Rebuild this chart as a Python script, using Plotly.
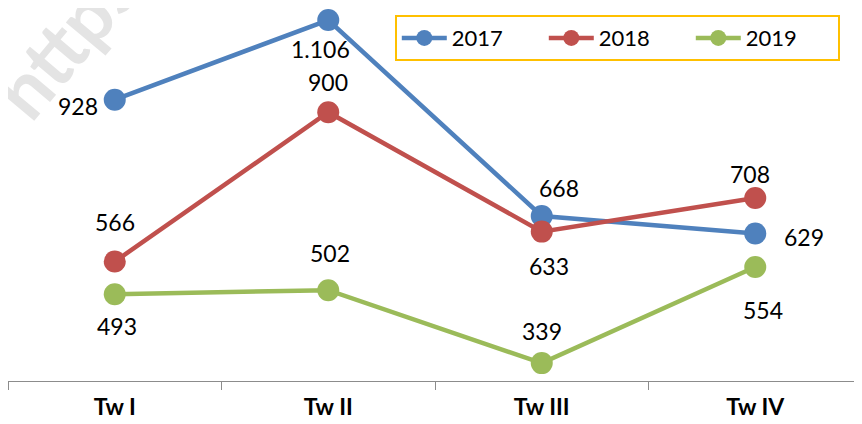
import plotly.graph_objects as go

categories = ["Tw I", "Tw II", "Tw III", "Tw IV"]
series_names = ["2017", "2018", "2019"]
values_2017 = [928, 1106, 668, 629]
values_2018 = [566, 900, 633, 708]
values_2019 = [493, 502, 339, 554]
labels_2017 = ["928", "1.106", "668", "629"]
labels_2018 = ["566", "900", "633", "708"]
labels_2019 = ["493", "502", "339", "554"]

colors = ["#4F81BD", "#C0504D", "#9BBB59"]
# label offsets in pixels (dx right, dy down) relative to each point
offsets = [
    [(-37, 8), (-8, 31), (17, -26), (49, 6)],
    [(0, -38), (0, -28), (7, 36), (-5, -22)],
    [(2, 34), (2, -35), (0, -30), (8, 45)],
]

fig = go.Figure()
all_vals = [values_2017, values_2018, values_2019]
all_labs = [labels_2017, labels_2018, labels_2019]
for name, vals, labs, col, offs in zip(series_names, all_vals, all_labs, colors, offsets):
    fig.add_trace(go.Scatter(
        x=categories, y=vals, name=name, mode="lines+markers",
        line=dict(color=col, width=4.5),
        marker=dict(color=col, size=22),
    ))
    for cat, v, lab, (dx, dy) in zip(categories, vals, labs, offs):
        fig.add_annotation(x=cat, y=v, text=lab, showarrow=False,
                           xshift=dx, yshift=-dy + 2, xanchor="center", yanchor="middle",
                           font=dict(size=23, color="#000000", family="Lato"))

# watermark
fig.add_annotation(text="<b>https://</b>", xref="paper", yref="paper", x=0.093, y=0.99,
                   xanchor="center", yanchor="middle", showarrow=False, textangle=-50,
                   font=dict(size=76, color="#E4E4E4", family="Lato"))

fig.update_layout(
    width=854, height=416,
    margin=dict(l=0, r=0, t=0, b=43, autoexpand=False),
    paper_bgcolor="white", plot_bgcolor="white",
    showlegend=True,
    legend=dict(orientation="h", x=0.974, xanchor="right", y=0.981, yanchor="top",
                bordercolor="#FFC000", borderwidth=2,
                font=dict(size=22, family="Lato", color="#000000"),
                itemwidth=45, entrywidth=87, bgcolor="white"),
)
fig.update_xaxes(showgrid=False, showline=True, linecolor="#8C8C8C", linewidth=1,
                 ticks="outside", tickcolor="#8C8C8C", ticklen=8, tickson="boundaries",
                 tickfont=dict(size=23, family="Lato", color="#000000"),
                 ticklabelstandoff=5,
                 tickprefix="<b>", ticksuffix="</b>", range=[-0.5, 3.5], automargin=False)
fig.update_yaxes(showgrid=False, showticklabels=False, zeroline=False,
                 range=[299, 1133], automargin=False)

fig.write_html("out.html")
